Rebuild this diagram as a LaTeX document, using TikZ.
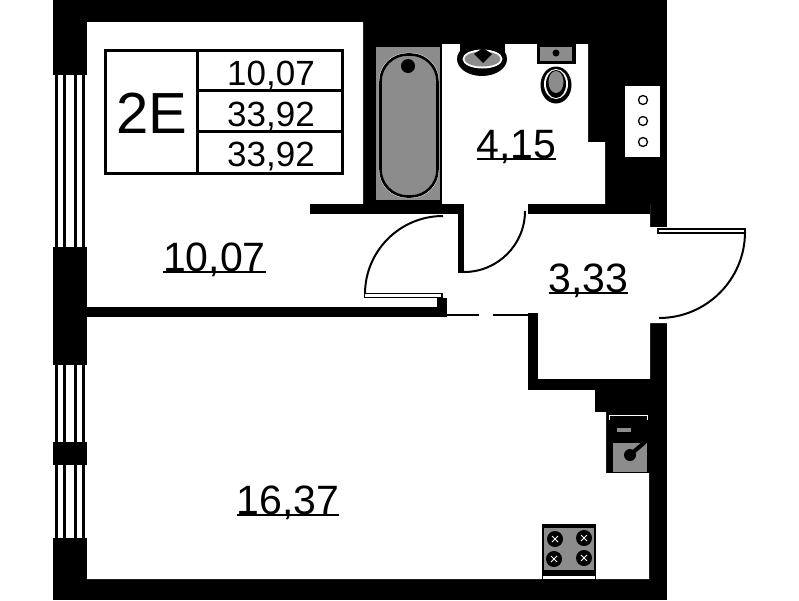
\documentclass[tikz,border=0pt]{standalone}
\usepackage{fontspec}
\setmainfont{Liberation Sans}
\newcommand\ulab[1]{\setbox0\hbox{#1}\rlap{\rule[-1.6pt]{\wd0}{2pt}}\box0}
\newcommand\bigtxt{\fontsize{41}{41}\selectfont}
\newcommand\midtxt{\fontsize{35}{35}\selectfont}
\definecolor{fix}{gray}{0.55}
\tikzset{
  x=1pt,y=-1pt,
  wall/.style={fill=black,draw=none},
  space/.style={fill=white,draw=none},
  fixture/.style={fill=fix,draw=none},
  swing/.style={draw=black,line width=2pt},
  leaf/.style={draw=black,fill=white,line width=1.6pt},
  room/.style={anchor=base,inner sep=0pt,font=\bigtxt},
  cell/.style={anchor=base,inner sep=0pt,font=\midtxt},
  grid/.style={draw=black,line width=3pt},
  glass/.style={fill=black,draw=none},
  vent/.style={draw=black,line width=1.3pt,fill=white},
  burner/.style={fill=black,draw=none},
  cross/.style={draw=white,line width=1pt}
}
\begin{document}
\begin{tikzpicture}
\useasboundingbox (0,0) rectangle (799,600);
\fill[white] (0,0) rectangle (799,600);
% mass of walls
\fill[wall] (53,0) rectangle (667,600);
% interior
\fill[space] (87,22) -- (363,22) -- (363,204) -- (442,204) -- (442,44) -- (588,44) -- (588,142) -- (605,142) -- (605,204) -- (650,204)
  -- (650,227) -- (667,227) -- (667,323) -- (650,323) -- (650,379) -- (595,379) -- (595,412) -- (606,412) -- (606,473) -- (649,473)
  -- (649,579) -- (87,579) -- cycle;
% partition walls
\fill[wall] (310,204) rectangle (464,214);
\fill[wall] (458,204) rectangle (464,273);
\fill[wall] (528,204) rectangle (650,214);
\fill[wall] (87,307) rectangle (447,317);
\fill[wall] (437,298) rectangle (447,317);
\fill[wall] (528,313) rectangle (538,390);
\fill[wall] (528,379) rectangle (650,390);
\fill[wall] (595,379) rectangle (650,412);
\draw[line width=1.5pt] (447,315) -- (479,315) (493,315) -- (528,315);
% windows
\fill[space] (53,75) rectangle (87,247);
\fill[space] (53,365) rectangle (87,442);
\fill[space] (53,465) rectangle (87,538);
\foreach \a/\b in {75/247,365/442,465/538}{
  \fill[glass] (55,\a) rectangle (58,\b);
  \fill[glass] (63,\a) rectangle (66,\b);
  \fill[glass] (74,\a) rectangle (77,\b);
  \fill[glass] (82,\a) rectangle (85,\b);
}
% doors
\draw[swing] (464,272) arc[start angle=90,end angle=0,radius=61];
\draw[leaf] (364.5,293.5) rectangle (442,297.5);
\draw[swing] (365,294) arc[start angle=180,end angle=270,radius=78];
\draw[leaf] (658,229) rectangle (745,233);
\draw[swing] (745,232) arc[start angle=0,end angle=90,radius=86];
% vent shaft
\fill[space] (625,86) rectangle (660,157);
\draw[vent] (643,100) circle[radius=4.5];
\draw[vent] (643,121) circle[radius=4.5];
\draw[vent] (643,142) circle[radius=4.5];
% bath
\fill[fixture] (376,47) rectangle (440,200);
\draw[white,line width=3.4pt,fill=fix] (380.5,54.5) [rounded corners=27pt] rectangle (437.5,196.5);
\draw[black,line width=2.6pt,fill=fix] (380.5,54.5) [rounded corners=27pt] rectangle (437.5,196.5);
\fill[black] (408,66) circle[radius=7];
% washbasin
\fill[wall] (460,44) rectangle (505,60);
\fill[wall] (482,59) ellipse[x radius=25,y radius=17];
\fill[white] (482.5,59) ellipse[x radius=20,y radius=9.5];
\fill[fixture] (482.5,59) ellipse[x radius=18,y radius=7.5];
\fill[black] (474,54) -- (483,48) -- (492,54) -- (483,63) -- cycle;
% toilet
\fill[wall] (537,44) rectangle (576,64);
\fill[fixture] (540,47) rectangle (572,61);
\fill[black] (556,53) circle[radius=3.5];
\fill[black] (556,85) ellipse[x radius=15.5,y radius=18.5];
\fill[white] (556,84) ellipse[x radius=12,y radius=15];
\fill[black] (556,84) ellipse[x radius=10,y radius=14];
\fill[fixture] (556,82) ellipse[x radius=7.5,y radius=11];
% hob
\fill[wall] (542,524) rectangle (596,580);
\fill[fixture] (544,528) rectangle (594,570);
\fill[white] (543,576) rectangle (595,579);
\foreach \p/\q in {555/539,584/538,554/559,584/558}{
  \fill[burner] (\p,\q) circle[radius=8];
  \draw[cross] (\p-3,\q-3) -- (\p+3,\q+3) (\p-3,\q+3) -- (\p+3,\q-3);
}
% kitchen sink
\draw[white,line width=0.8pt] (609,420) -- (609,415) -- (647,415) -- (647,420);
\fill[fixture] (613,443) rectangle (647,472);
\fill[fixture] (617,428) rectangle (631,432);
\fill[black] (630,455) circle[radius=6];
\draw[black,line width=4pt] (630,455) -- (645,442);
% table
\draw[grid] (105,50.5) rectangle (342,173);
\draw[grid] (197,50.5) -- (197,173);
\draw[grid] (197,90.5) -- (342,90.5);
\draw[grid] (197,131.5) -- (342,131.5);
\node[anchor=base,inner sep=0pt,font=\fontsize{58}{58}\selectfont] (plan) at (152,133) {2E};
\node[cell] (t1) at (271,85) {10,07};
\node[cell] (t2) at (271,126) {33,92};
\node[cell] (t3) at (271,166) {33,92};
% room labels
\node[room] (r1) at (214.5,271) {\ulab{10,07}};
\node[room] (r2) at (516.5,158) {\ulab{4,15}};
\node[room] (r3) at (588.5,292) {\ulab{3,33}};
\node[room] (r4) at (288,514) {\ulab{16,37}};
\end{tikzpicture}
\end{document}
